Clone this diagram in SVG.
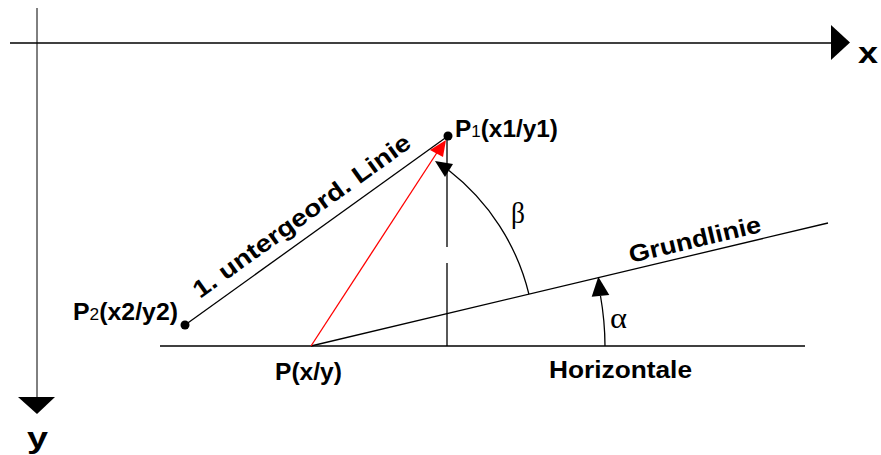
<svg xmlns="http://www.w3.org/2000/svg" width="881" height="455" viewBox="0 0 881 455">
<style>
.ln{stroke:#000;stroke-width:1.3;fill:none}
.lbl{font-family:"Liberation Sans",Arial,sans-serif;font-weight:bold;fill:#000}
.sub{font-weight:normal}
.grk{font-family:"Liberation Serif","Times New Roman",serif;fill:#000}
.fill{fill:#000;stroke:none}
</style>
<rect width="881" height="455" fill="#fff"/>
<g id="axes">
<line x1="10" y1="43" x2="832" y2="43" class="ln"/>
<polygon points="831,25 831,60 850,42.5" class="fill"/>
<text x="858" y="63" class="lbl" font-size="30" textLength="20" lengthAdjust="spacingAndGlyphs">x</text>
<line x1="37" y1="8" x2="37" y2="398" stroke="#000" stroke-width="1"/>
<polygon points="18,397 55,397 37,414" class="fill"/>
<text x="27" y="448" class="lbl" font-size="30" textLength="21" lengthAdjust="spacingAndGlyphs">y</text>
</g>
<g id="connectors">
<line x1="160" y1="346" x2="805" y2="346" class="ln"/>
<line x1="311" y1="346" x2="828" y2="223" class="ln"/>
<line x1="185" y1="325" x2="448" y2="136" class="ln"/>
<line x1="447" y1="140" x2="447" y2="346" stroke="#000" stroke-width="1.3" stroke-dasharray="107 16"/>
<line x1="311" y1="346" x2="440" y2="148" stroke="#f00" stroke-width="1.3"/>
<polygon points="446,140 430,150 443,157" fill="#f00"/>
<path d="M528.9,294.1 A224,224 0 0 0 449,170.5" class="ln"/>
<polygon points="435,161 453,164 445,177" class="fill"/>
<path d="M605,346 A294,294 0 0 0 600.5,296" class="ln"/>
<polygon points="598.3,276.7 591.7,296.7 609.3,295" class="fill"/>
</g>
<g id="P1">
<circle cx="448" cy="136" r="4.5" class="fill"/>
<text x="455" y="137" class="lbl" font-size="23" textLength="103" lengthAdjust="spacingAndGlyphs">P<tspan class="sub" font-size="16">1</tspan>(x1/y1)</text>
</g>
<g id="P2">
<circle cx="185" cy="325" r="4.5" class="fill"/>
<text x="73" y="320" class="lbl" font-size="23" textLength="105" lengthAdjust="spacingAndGlyphs">P<tspan class="sub" font-size="16">2</tspan>(x2/y2)</text>
</g>
<g id="P">
<text x="275" y="380" class="lbl" font-size="23" textLength="67" lengthAdjust="spacingAndGlyphs">P(x/y)</text>
</g>
<g id="horizontale">
<text x="549" y="378" class="lbl" font-size="24" textLength="143" lengthAdjust="spacingAndGlyphs">Horizontale</text>
</g>
<g id="grundlinie">
<text transform="translate(631,263) rotate(-13.4)" class="lbl" font-size="24" textLength="135" lengthAdjust="spacingAndGlyphs">Grundlinie</text>
</g>
<g id="untergeord">
<text transform="translate(200,299) rotate(-35.7)" class="lbl" font-size="24" textLength="262" lengthAdjust="spacingAndGlyphs">1. untergeord. Linie</text>
</g>
<g id="angles">
<text x="610" y="328" class="grk" font-size="29" textLength="17" lengthAdjust="spacingAndGlyphs">α</text>
<text x="511" y="223" class="grk" font-size="29" textLength="14" lengthAdjust="spacingAndGlyphs">β</text>
</g>
</svg>
